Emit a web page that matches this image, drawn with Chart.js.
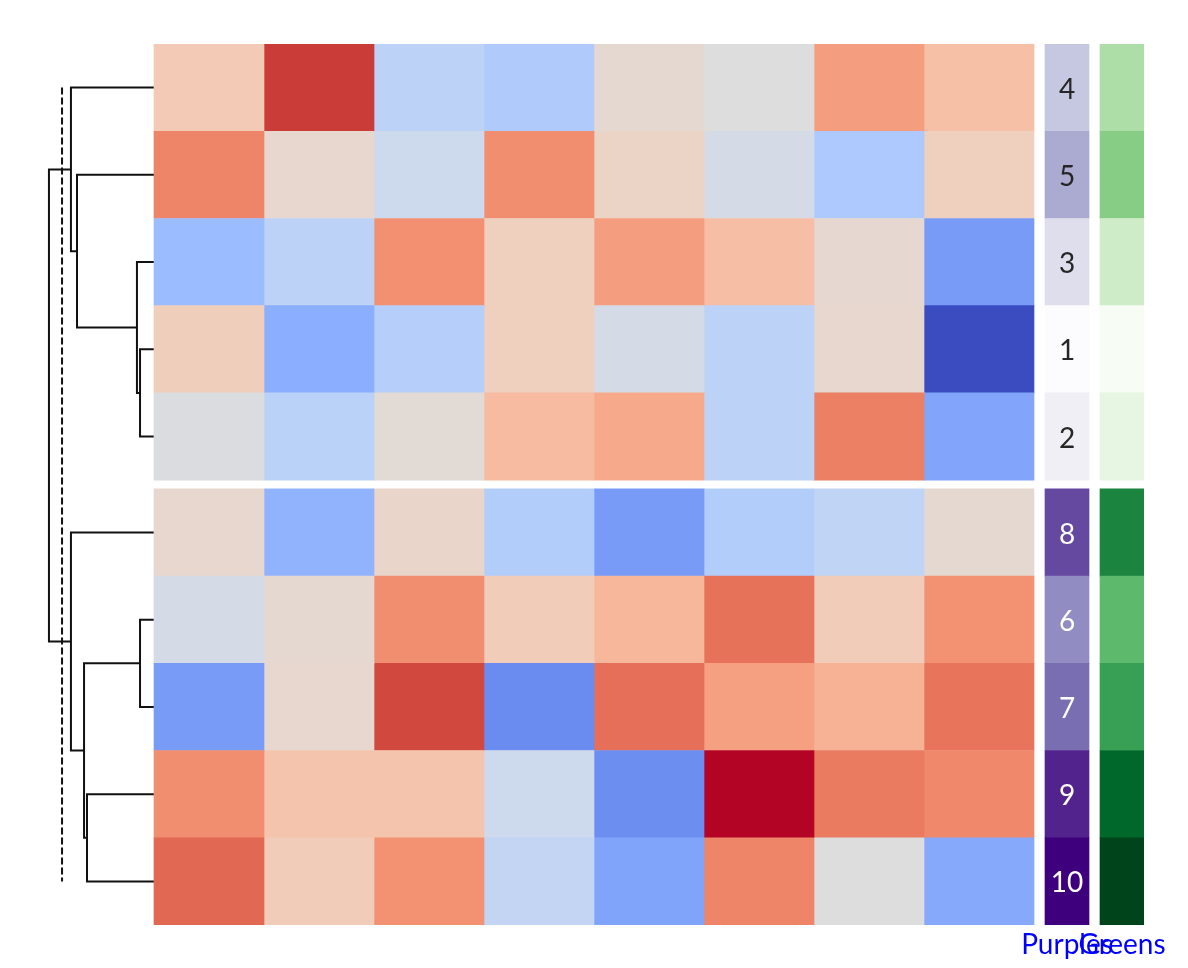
<!DOCTYPE html>
<html>
<head>
<meta charset="utf-8">
<script src="https://cdn.jsdelivr.net/npm/chart.js@4/dist/chart.umd.min.js"></script>
<style>
html,body{margin:0;padding:0;background:#ffffff;}
canvas{display:block;}
</style>
</head>
<body>
<canvas id="c" width="1188" height="968"></canvas>
<script>
// ---------------- data ----------------
const rowLabels = ['4','5','3','1','2','8','6','7','9','10'];
const rowGroup  = [0,0,0,0,0,1,1,1,1,1];
// heatmap values (normalised 0..1, coolwarm), one array per row in display order
const row4  = [0.60, 0.94, 0.39, 0.35, 0.53, 0.50, 0.74, 0.64];
const row5  = [0.80, 0.54, 0.44, 0.78, 0.56, 0.47, 0.345, 0.58];
const row3  = [0.29, 0.39, 0.775, 0.58, 0.74, 0.645, 0.535, 0.19];
const row1  = [0.585, 0.245, 0.37, 0.58, 0.47, 0.39, 0.54, 0.00];
const row2  = [0.49, 0.38, 0.52, 0.655, 0.71, 0.39, 0.81, 0.22];
const row8  = [0.54, 0.26, 0.55, 0.36, 0.19, 0.36, 0.40, 0.53];
const row6  = [0.47, 0.53, 0.78, 0.595, 0.67, 0.84, 0.595, 0.77];
const row7  = [0.19, 0.54, 0.92, 0.15, 0.845, 0.735, 0.685, 0.835];
const row9  = [0.78, 0.625, 0.625, 0.44, 0.155, 1.00, 0.82, 0.79];
const row10 = [0.86, 0.595, 0.77, 0.41, 0.215, 0.80, 0.50, 0.23];
const heatRows = [row4, row5, row3, row1, row2, row8, row6, row7, row9, row10];
// annotation columns
const annotationNames = ['Purples', 'Greens'];
const purplesValues = [4,5,3,1,2,8,6,7,9,10];
const greensValues  = [4,5,3,1,2,8,6,7,9,10];
// dendrogram linkage (leaves 0..9 in display order, internal nodes numbered from 10)
const linkLeft   = [3, 2, 1, 0, 6, 8, 14, 5, 13];
const linkRight  = [4, 10, 11, 12, 7, 9, 15, 16, 17];
const linkHeight = [0.127, 0.155, 0.70, 0.755, 0.127, 0.609, 0.636, 0.755, 0.955];
const cutHeight  = 0.836;

// ---------------- colour maps ----------------
const coolwarmTable = [
 [59,76,192],[68,90,204],[77,104,215],[87,117,225],[98,130,234],[108,142,241],[119,154,247],[130,165,251],
 [141,176,254],[152,185,255],[163,194,255],[174,201,253],[184,208,249],[194,213,244],[204,217,238],[213,219,230],
 [221,221,221],[229,216,209],[236,211,197],[241,204,184],[245,196,173],[247,187,160],[247,177,148],[247,166,135],
 [244,154,123],[241,141,111],[236,127,99],[229,112,88],[222,96,77],[213,80,66],[203,62,56],[192,40,47],[180,4,38]];
const purplesTable = ['#fcfbfd','#efedf5','#dadaeb','#bcbddc','#9e9ac8','#807dba','#6a51a3','#54278f','#3f007d'];
const greensTable  = ['#f7fcf5','#e5f5e0','#c7e9c0','#a1d99b','#74c476','#41ab5d','#238b45','#006d2c','#00441b'];
function hexToRgb(h){return [parseInt(h.slice(1,3),16),parseInt(h.slice(3,5),16),parseInt(h.slice(5,7),16)];}
function interp(table, t){
  t = Math.max(0, Math.min(1, t));
  const p = t*(table.length-1), i = Math.min(Math.floor(p), table.length-2), f = p - i;
  const a = table[i], b = table[i+1];
  return [0,1,2].map(k => Math.round(a[k] + (b[k]-a[k])*f));
}
const rgbStr = c => `rgb(${c[0]},${c[1]},${c[2]})`;
const coolwarm = t => interp(coolwarmTable, t);
const purples = t => interp(purplesTable.map(hexToRgb), t);
const greens  = t => interp(greensTable.map(hexToRgb), t);

// ---------------- geometry helpers (data units) ----------------
const GAP = 0.1;                       // gap between the two row groups
const rowY = rowGroup.map((g, i) => i + 0.5 + g*GAP);
const yMax = rowLabels.length + GAP;
const annoStart = [8.1, 8.6], annoWidth = 0.4;
const annoCenters = annoStart.map(s => s + annoWidth/2);

const datasets = [];
for (let c = 0; c < 8; c++) {
  datasets.push({
    type: 'bar', indexAxis: 'y', grouped: false,
    data: rowY.map(y => ({x: [c, c+1], y})),
    backgroundColor: heatRows.map(r => rgbStr(coolwarm(r[c]))),
    barPercentage: 1, categoryPercentage: 1, borderWidth: 0
  });
}
const annoSets = [purplesValues, greensValues];
const annoMaps = [purples, greens];
annoSets.forEach((vals, k) => {
  const lo = Math.min(...vals), hi = Math.max(...vals);
  datasets.push({
    type: 'bar', indexAxis: 'y', grouped: false, label: annotationNames[k],
    data: rowY.map(y => ({x: [annoStart[k], annoStart[k] + annoWidth], y})),
    backgroundColor: vals.map(v => rgbStr(annoMaps[k]((v-lo)/(hi-lo)))),
    barPercentage: 1, categoryPercentage: 1, borderWidth: 0
  });
});
const purplesIndex = 8;

// dendrogram
const nodeY = rowY.slice();
const nodeH = rowY.map(() => 0);
linkLeft.forEach((a, i) => {
  const b = linkRight[i], h = linkHeight[i];
  datasets.push({
    type: 'line',
    data: [{x: -nodeH[a], y: nodeY[a]}, {x: -h, y: nodeY[a]}, {x: -h, y: nodeY[b]}, {x: -nodeH[b], y: nodeY[b]}],
    borderColor: '#111111', borderWidth: 2, pointRadius: 0, pointHoverRadius: 0,
    fill: false, tension: 0, borderCapStyle: 'butt', borderJoinStyle: 'miter'
  });
  nodeY.push((nodeY[a] + nodeY[b]) / 2);
  nodeH.push(h);
});
datasets.push({
  type: 'line',
  data: [{x: -cutHeight, y: rowY[0]}, {x: -cutHeight, y: rowY[rowY.length-1]}],
  borderColor: '#111111', borderWidth: 2, borderDash: [7, 3],
  pointRadius: 0, pointHoverRadius: 0, fill: false
});

// number labels inside the Purples column
const cellText = {
  id: 'cellText',
  afterDatasetsDraw(chart) {
    const meta = chart.getDatasetMeta(purplesIndex);
    const ctx = chart.ctx;
    ctx.save();
    ctx.font = '28px Lato';
    ctx.textAlign = 'center';
    ctx.textBaseline = 'middle';
    meta.data.forEach((bar, i) => {
      const t = (purplesValues[i] - 1) / 9;
      const c = purples(t);
      const lum = 0.299*c[0] + 0.587*c[1] + 0.114*c[2];
      ctx.fillStyle = lum < 150 ? '#ffffff' : '#262626';
      ctx.fillText(rowLabels[i], (bar.x + bar.base) / 2, bar.y + 2);
    });
    ctx.restore();
  }
};

new Chart(document.getElementById('c'), {
  type: 'bar',
  data: { datasets },
  plugins: [cellText],
  options: {
    responsive: false,
    animation: false,
    events: [],
    layout: { padding: { left: 44, right: 44, top: 44, bottom: 3 } },
    plugins: { legend: { display: false }, tooltip: { enabled: false } },
    scales: {
      x: {
        type: 'linear', min: -1, max: 9, offset: false,
        afterBuildTicks: s => { s.ticks = annoCenters.map(v => ({ value: v })); },
        grid: { display: false, drawTicks: false, tickLength: 0, offset: false },
        border: { display: false },
        ticks: {
          autoSkip: false, minRotation: 0, maxRotation: 0, padding: 6,
          color: '#0000ff', font: { family: 'Lato', size: 28, lineHeight: 1 },
          callback: (v, i) => annotationNames[i]
        }
      },
      y: {
        type: 'linear', min: 0, max: yMax, reverse: true, display: false, offset: false,
        grid: { offset: false },
        afterBuildTicks: s => { s.ticks = rowY.map(v => ({ value: v })); }
      }
    }
  }
});
</script>
</body>
</html>
